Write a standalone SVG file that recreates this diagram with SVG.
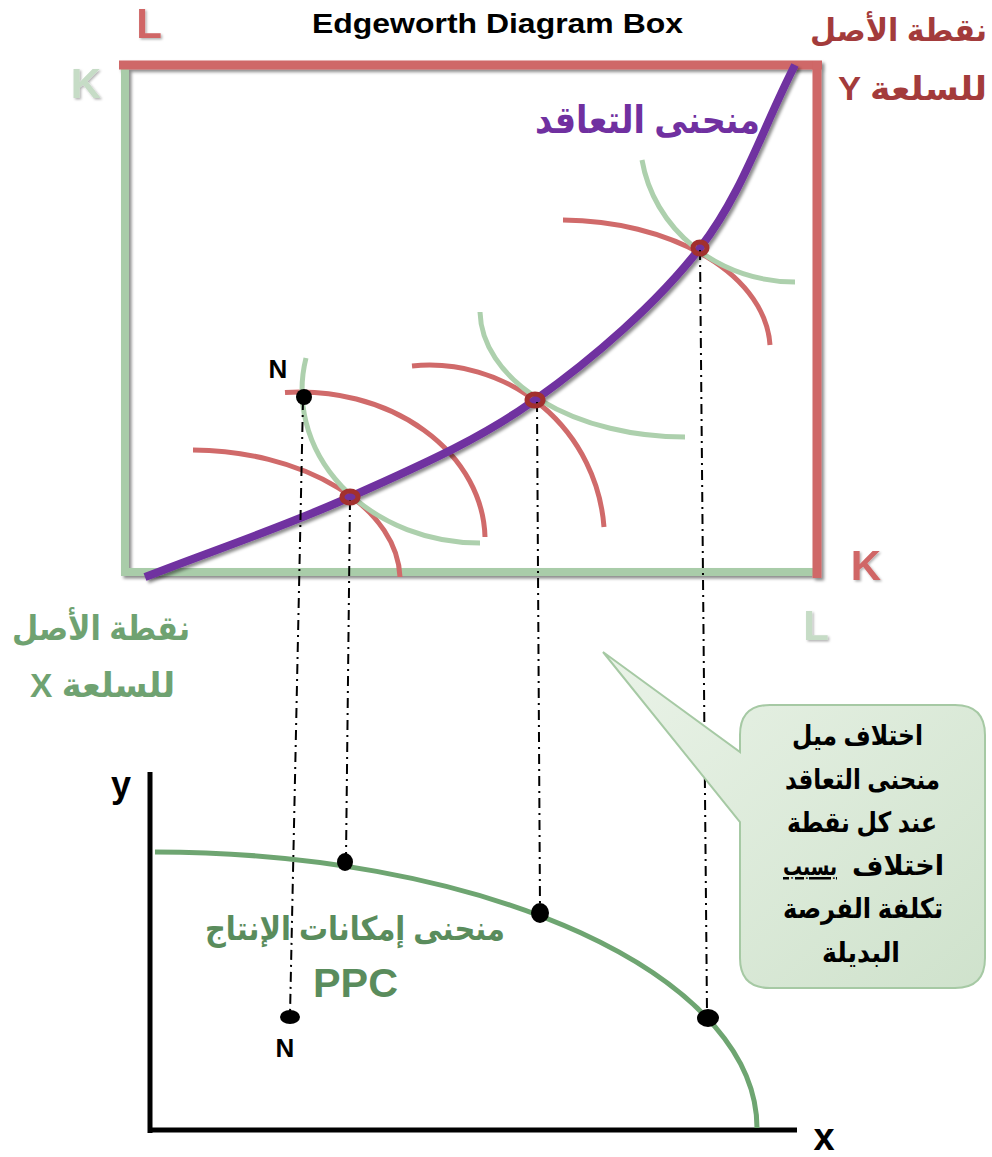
<svg xmlns="http://www.w3.org/2000/svg" width="992" height="1157" viewBox="0 0 992 1157">
<defs>
<filter id="sh" x="-20%" y="-20%" width="140%" height="140%">
<feDropShadow dx="2.5" dy="2.5" stdDeviation="1.5" flood-color="#000" flood-opacity="0.45"/>
</filter>
<filter id="tsh" x="-20%" y="-20%" width="140%" height="140%">
<feDropShadow dx="1.5" dy="1.5" stdDeviation="1" flood-color="#000" flood-opacity="0.3"/>
</filter>
<linearGradient id="cg" x1="0" y1="0" x2="1" y2="1">
<stop offset="0" stop-color="#EAF3E8"/>
<stop offset="1" stop-color="#CFE2CC"/>
</linearGradient>
</defs>
<style>
text{font-family:"Liberation Sans","DejaVu Sans",Arial,sans-serif;font-weight:bold}
.red{stroke:#CF6767;fill:none}
.grn{stroke:#A9CCA9;fill:none}
.ic-r{stroke:#D06A6A;stroke-width:5;fill:none}
.ic-g{stroke:#ADD0AD;stroke-width:5;fill:none}
.ring{stroke:#A2302E;stroke-width:5;fill:none}
.dd{stroke:#000;stroke-width:2;stroke-dasharray:10 5 2 5;fill:none}
.dot{fill:#000}
</style>

<g id="title"><text x="312" y="33" font-size="28" textLength="371" lengthAdjust="spacingAndGlyphs" fill="#000">Edgeworth Diagram Box</text></g>

<g id="box" filter="url(#sh)">
<line class="grn" x1="125" y1="62" x2="125" y2="576" stroke-width="8"/>
<line class="grn" x1="121" y1="572" x2="816" y2="572" stroke-width="8"/>
<line class="red" x1="119" y1="65" x2="822" y2="65" stroke-width="9"/>
<line class="red" x1="817" y1="61" x2="817" y2="578" stroke-width="9"/>
</g>

<g id="axis-labels">
<text x="149" y="38" font-size="42" text-anchor="middle" fill="#D06666" filter="url(#tsh)">L</text>
<text x="86" y="98" font-size="42" text-anchor="middle" fill="#C6DCC6" filter="url(#tsh)">K</text>
<text x="866" y="580" font-size="42" text-anchor="middle" fill="#D06666" filter="url(#tsh)">K</text>
<text x="816" y="640" font-size="42" text-anchor="middle" fill="#C6DCC6" filter="url(#tsh)">L</text>
</g>

<g id="origin-y">
<text x="810" y="41" font-size="31" textLength="177" lengthAdjust="spacingAndGlyphs" fill="#A33B3B">نقطة الأصل</text>
<text x="838" y="100" font-size="33" textLength="149" lengthAdjust="spacingAndGlyphs" fill="#A33B3B">Y للسلعة</text>
</g>

<g id="origin-x">
<text x="12" y="640" font-size="34" textLength="178" lengthAdjust="spacingAndGlyphs" fill="#6FA271">نقطة الأصل</text>
<text x="30" y="697" font-size="34" textLength="145" lengthAdjust="spacingAndGlyphs" fill="#6FA271">X للسلعة</text>
</g>

<g id="indifference-curves">
<path class="ic-r" d="M193,450 A210,130 0 0 1 400,577"/>
<path class="ic-r" d="M285,392.5 A185,148 0 0 1 485,537"/>
<path class="ic-r" d="M412,366 A175,175 0 0 1 604,527"/>
<path class="ic-r" d="M563,220 A210,130 0 0 1 770,345"/>
<path class="ic-g" d="M306,358 A178,153 0 0 0 480,543"/>
<path class="ic-g" d="M480,312 A205,127 0 0 0 685,437"/>
<path class="ic-g" d="M642,160 A155,145 0 0 0 795,282"/>
</g>

<g id="contract-curve">
<path d="M145,577 C213.3,550.3 285,526.5 350,497 C415,467.5 476.7,441.5 535,400 C593.3,358.5 656.7,303.8 700,248 C743.3,192.2 763.3,126 795,65" stroke="#7030A0" stroke-width="8" fill="none" filter="url(#sh)"/>
<text x="535" y="133" font-size="38" textLength="225" lengthAdjust="spacingAndGlyphs" fill="#7030A0">منحنى التعاقد</text>
</g>

<g id="connectors">
<line class="dd" x1="303" y1="400" x2="290" y2="1015"/>
<line class="dd" x1="350" y1="500" x2="346" y2="858"/>
<line class="dd" x1="537" y1="402" x2="540" y2="908"/>
<line class="dd" x1="700" y1="250" x2="707" y2="1012"/>
</g>

<g id="tangency-points">
<ellipse class="ring" cx="350" cy="497" rx="8" ry="6"/>
<ellipse class="ring" cx="535" cy="400" rx="8" ry="6"/>
<ellipse class="ring" cx="700" cy="248" rx="7" ry="6"/>
</g>

<g id="point-N-top">
<circle class="dot" cx="304" cy="397" r="8"/>
<text x="278" y="378" font-size="26" text-anchor="middle" fill="#000">N</text>
</g>

<g id="axes">
<line x1="150" y1="772" x2="150" y2="1133" stroke="#000" stroke-width="5"/>
<line x1="148" y1="1130" x2="797" y2="1130" stroke="#000" stroke-width="5"/>
<text x="121" y="797" font-size="36" text-anchor="middle" fill="#000">y</text>
<text x="824" y="1150" font-size="38" text-anchor="middle" fill="#000">x</text>
</g>

<g id="ppc">
<path d="M155,852 A602,276 0 0 1 757,1128" stroke="#6EA571" stroke-width="5" fill="none"/>
<text x="205" y="940" font-size="33" textLength="300" lengthAdjust="spacingAndGlyphs" fill="#5A8C5C">منحنى إمكانات الإنتاج</text>
<text x="313" y="997" font-size="40" textLength="85" lengthAdjust="spacingAndGlyphs" fill="#5A8C5C">PPC</text>
</g>

<g id="ppc-points">
<ellipse class="dot" cx="345" cy="862" rx="8" ry="9"/>
<ellipse class="dot" cx="540" cy="913" rx="9" ry="10"/>
<ellipse class="dot" cx="708" cy="1018" rx="11" ry="9"/>
<ellipse class="dot" cx="290" cy="1017" rx="10" ry="7"/>
<text x="285" y="1057" font-size="26" text-anchor="middle" fill="#000">N</text>
</g>

<g id="callout">
<path d="M770,705 H955 Q985,705 985,735 V958 Q985,988 955,988 H770 Q740,988 740,958 V822 L603,652 L740,752 V735 Q740,705 770,705 Z" fill="url(#cg)" stroke="#A6C9A4" stroke-width="2"/>
<text x="792" y="745" font-size="28" textLength="131" lengthAdjust="spacingAndGlyphs" fill="#000">اختلاف ميل</text>
<text x="785" y="789" font-size="28" textLength="155" lengthAdjust="spacingAndGlyphs" fill="#000">منحنى التعاقد</text>
<text x="787" y="832" font-size="28" textLength="150" lengthAdjust="spacingAndGlyphs" fill="#000">عند كل نقطة</text>
<text x="783" y="875" font-size="25" textLength="54" lengthAdjust="spacingAndGlyphs" fill="#000" text-decoration="underline">بسبب</text>
<text x="852" y="875" font-size="28" textLength="92" lengthAdjust="spacingAndGlyphs" fill="#000">اختلاف</text>
<text x="783" y="918" font-size="28" textLength="160" lengthAdjust="spacingAndGlyphs" fill="#000">تكلفة الفرصة</text>
<text x="822" y="962" font-size="28" textLength="78" lengthAdjust="spacingAndGlyphs" fill="#000">البديلة</text>
</g>
</svg>
